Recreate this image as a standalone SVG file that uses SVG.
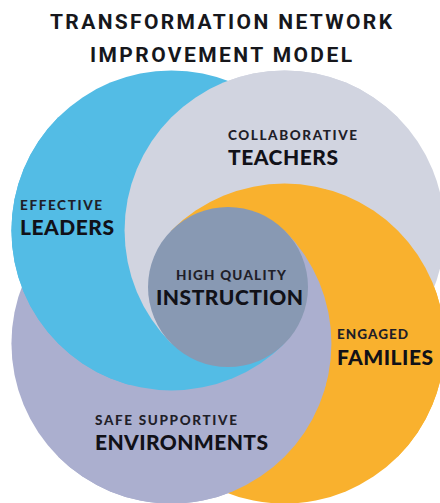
<svg xmlns="http://www.w3.org/2000/svg" xmlns:xlink="http://www.w3.org/1999/xlink" width="440" height="503" viewBox="0 0 440 503">
  <style>
    .title { font-family: Roboto, "Liberation Sans", sans-serif; font-weight: 700; font-size: 21px; fill: #16171c; }
    .sm { font-family: Lato, "Open Sans", "Liberation Sans", sans-serif; font-weight: 900; font-size: 13.5px; fill: #1f2028; }
    .lg { font-family: Lato, "Open Sans", "Liberation Sans", sans-serif; font-weight: 900; font-size: 21px; fill: #111118; }
    .blue { fill: #53bce5; }
    .gray { fill: #d1d4e0; }
    .orange { fill: #f9b12e; }
    .lav { fill: #abafcf; }
    .inner { fill: #8899b3; }
  </style>
  <defs>
    <circle id="c-blue" cx="171.43" cy="230.43" r="160"/>
    <circle id="c-gray" cx="284.57" cy="230.43" r="160"/>
    <circle id="c-orange" cx="284.57" cy="343.57" r="160"/>
    <circle id="c-lav" cx="171.43" cy="343.57" r="160"/>
    <clipPath id="clip-ul"><polygon points="-1000,1515 1515,-1000 -1000,-1000"/></clipPath>
    <clipPath id="clip-ur"><polygon points="-1000,-941 1500,1559 1500,-1000 -1000,-1000"/></clipPath>
    <clipPath id="clip-ll"><polygon points="-1000,-941 1500,1559 -1000,1559"/></clipPath>
    <clipPath id="clip-bt"><polygon points="228,287 -1000,1515 -1000,2000 1500,2000 1500,1559"/></clipPath>
    <clipPath id="clip-rt"><polygon points="227,288 1515,-1000 2000,-1000 2000,1563 1500,1563"/></clipPath>
  </defs>

  <g id="title">
    <text class="title" x="50" y="29" textLength="342" lengthAdjust="spacing">TRANSFORMATION NETWORK</text>
    <text class="title" x="90" y="62" textLength="262" lengthAdjust="spacing">IMPROVEMENT MODEL</text>
  </g>

  <g id="circle-layers">
    <use xlink:href="#c-lav" class="lav"/>
    <use xlink:href="#c-orange" class="orange"/>
    <use xlink:href="#c-gray" class="gray"/>
    <use xlink:href="#c-blue" class="blue"/>
    <use xlink:href="#c-lav" class="lav" clip-path="url(#clip-bt)"/>
    <use xlink:href="#c-blue" class="blue" clip-path="url(#clip-ll)"/>
    <use xlink:href="#c-gray" class="gray" clip-path="url(#clip-ul)"/>
    <use xlink:href="#c-orange" class="orange" clip-path="url(#clip-ur)"/>
    <use xlink:href="#c-lav" class="lav" clip-path="url(#clip-rt)"/>
  </g>

  <g id="node-leaders">
    <text class="sm" x="20" y="210" textLength="82" lengthAdjust="spacing">EFFECTIVE</text>
    <text class="lg" x="20" y="235" textLength="94" lengthAdjust="spacing">LEADERS</text>
  </g>
  <g id="node-teachers">
    <text class="sm" x="228" y="140" textLength="129" lengthAdjust="spacing">COLLABORATIVE</text>
    <text class="lg" x="228" y="165" textLength="110" lengthAdjust="spacing">TEACHERS</text>
  </g>
  <g id="node-families">
    <text class="sm" x="337" y="339" textLength="71" lengthAdjust="spacing">ENGAGED</text>
    <text class="lg" x="337" y="365" textLength="96" lengthAdjust="spacing">FAMILIES</text>
  </g>
  <g id="node-environments">
    <text class="sm" x="95" y="425" textLength="142" lengthAdjust="spacing">SAFE SUPPORTIVE</text>
    <text class="lg" x="95" y="450" textLength="173" lengthAdjust="spacing">ENVIRONMENTS</text>
  </g>
  <g id="node-instruction">
    <circle class="inner" cx="228" cy="287" r="80"/>
    <text class="sm" x="176" y="280" textLength="110" lengthAdjust="spacing">HIGH QUALITY</text>
    <text class="lg" x="156" y="305" textLength="147" lengthAdjust="spacing">INSTRUCTION</text>
  </g>
</svg>
